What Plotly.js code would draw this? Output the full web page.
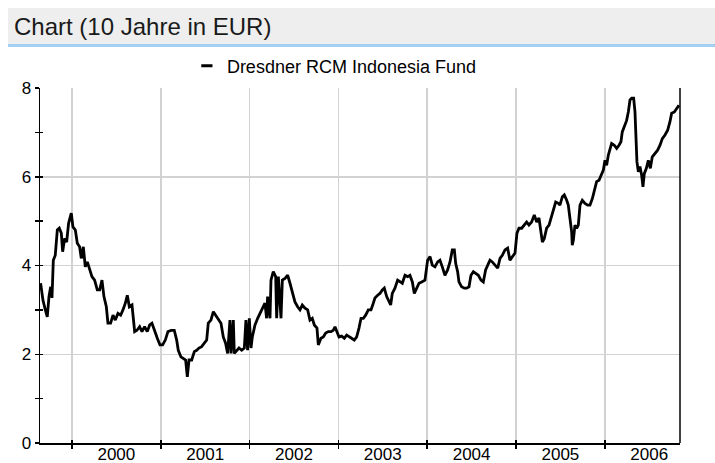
<!DOCTYPE html>
<html>
<head>
<meta charset="utf-8">
<script src="https://cdn.plot.ly/plotly-3.0.1.min.js"></script>
<style>
html,body{margin:0;padding:0;background:#fff;}
#chart{width:715px;height:463px;}
</style>
</head>
<body>
<div id="chart"></div>
<script>
// ---- data (decimal years / fund price in EUR) ----
const seriesName = 'Dresdner RCM Indonesia Fund';
const headerTitle = 'Chart (10 Jahre in EUR)';

const dates = [
1999.647,1999.673,1999.700,1999.722,1999.741,1999.760,1999.775,1999.790,1999.812,1999.835,1999.857,1999.880,1999.895,1999.917,1999.940,1999.962,1999.992,
2000.011,2000.038,2000.060,2000.086,2000.105,2000.128,2000.150,2000.173,2000.199,2000.225,2000.255,2000.285,2000.312,2000.338,2000.360,2000.387,2000.405,2000.435,2000.462,2000.488,2000.518,2000.548,2000.574,2000.601,2000.623,2000.646,2000.676,2000.706,2000.732,2000.762,2000.788,2000.818,2000.848,2000.875,2000.901,2000.931,2000.961,2000.991,
2001.021,2001.051,2001.081,2001.119,
2001.152,2001.179,2001.197,2001.227,2001.254,2001.280,2001.299,2001.318,2001.348,2001.378,2001.404,2001.430,2001.460,2001.490,2001.517,2001.535,2001.565,2001.592,2001.618,2001.648,2001.678,2001.704,2001.730,2001.753,2001.779,2001.791,2001.817,2001.828,2001.854,2001.881,2001.911,2001.941,2001.959,2001.978,2001.997,
2002.016,2002.031,2002.061,2002.091,2002.117,2002.143,2002.173,2002.192,2002.203,2002.230,2002.241,2002.267,2002.294,2002.305,2002.324,2002.354,2002.369,2002.399,2002.429,2002.455,2002.481,2002.511,
2002.541,2002.568,2002.594,2002.624,2002.654,2002.680,2002.706,2002.729,2002.759,2002.774,2002.804,2002.830,2002.857,2002.887,2002.917,2002.943,2002.962,2002.984,
2003.007,2003.037,2003.067,2003.093,2003.119,2003.149,2003.179,2003.206,2003.232,2003.255,2003.281,2003.307,2003.337,2003.367,2003.393,2003.412,2003.442,2003.468,2003.495,2003.517,2003.544,2003.562,2003.589,2003.607,2003.637,2003.667,2003.694,2003.720,2003.750,2003.780,2003.806,2003.833,2003.855,2003.881,2003.908,2003.938,2003.975,
2004.005,
2004.032,2004.058,2004.088,2004.118,2004.144,2004.170,2004.200,2004.230,2004.257,2004.283,2004.306,2004.321,2004.343,2004.358,2004.388,2004.418,2004.444,2004.471,2004.493,2004.520,2004.546,2004.576,2004.606,2004.632,2004.658,2004.681,2004.707,2004.733,2004.764,2004.794,2004.820,2004.846,2004.876,2004.906,2004.932,2004.959,2004.989,
2005.011,2005.034,2005.064,2005.094,2005.120,2005.146,2005.176,2005.206,2005.233,2005.259,2005.282,2005.297,2005.319,2005.345,2005.372,2005.394,2005.421,2005.447,2005.477,
2005.495,2005.522,2005.544,2005.571,2005.589,2005.608,2005.627,2005.634,2005.646,2005.664,2005.683,2005.702,2005.721,2005.747,2005.777,2005.807,2005.833,2005.860,2005.882,2005.908,2005.935,2005.957,2005.984,
2006.002,2006.021,2006.040,2006.059,2006.077,2006.107,2006.134,2006.160,2006.182,2006.197,2006.220,2006.246,2006.265,2006.284,2006.303,2006.325,2006.340,2006.351,2006.362,2006.378,2006.396,2006.415,2006.430,2006.445,2006.468,2006.490,2006.513,2006.535,2006.565,2006.595,2006.622,2006.648,2006.678,2006.708,2006.734,2006.753,2006.783,2006.809,2006.835
];

const prices = [
3.60,3.22,3.00,2.84,3.30,3.52,3.27,4.12,4.23,4.80,4.84,4.73,4.31,4.61,4.53,4.95,5.18,
4.87,4.80,4.50,4.42,4.16,4.42,3.97,4.08,3.90,3.75,3.67,3.45,3.45,3.67,3.30,3.07,2.70,2.70,2.88,2.77,2.92,2.88,3.00,3.15,3.33,3.07,3.11,2.51,2.54,2.62,2.51,2.62,2.51,2.66,2.70,2.51,2.36,2.21,
2.21,2.32,2.51,2.54,
2.54,2.32,2.09,1.94,1.91,1.87,1.49,1.87,1.87,2.06,2.09,2.14,2.17,2.25,2.32,2.70,2.77,2.96,2.88,2.77,2.70,2.39,2.25,2.02,2.77,2.02,2.77,2.02,2.09,2.14,2.09,2.14,2.77,2.09,2.81,
2.14,2.39,2.66,2.81,2.92,3.04,3.15,2.81,3.30,2.81,3.67,3.86,3.75,2.81,3.75,2.81,3.67,3.71,3.78,3.60,3.37,3.18,
3.07,3.00,3.11,3.04,3.00,2.77,2.81,2.66,2.59,2.21,2.36,2.39,2.48,2.51,2.51,2.54,2.62,2.48,
2.39,2.41,2.36,2.43,2.39,2.36,2.32,2.39,2.59,2.81,2.81,2.88,3.00,3.00,3.15,3.27,3.33,3.37,3.45,3.49,3.30,3.22,3.11,3.37,3.49,3.67,3.63,3.60,3.78,3.75,3.78,3.63,3.37,3.49,3.60,3.63,3.67,
4.12,
4.20,4.01,3.97,4.08,4.12,3.97,3.78,3.90,4.08,4.35,4.35,4.05,3.86,3.63,3.52,3.49,3.49,3.52,3.78,3.86,3.83,3.78,3.67,3.63,3.90,4.01,4.12,4.08,4.01,3.94,4.16,4.23,4.35,4.39,4.12,4.20,4.28,
4.73,4.84,4.84,4.91,4.98,4.91,4.98,5.14,4.98,5.07,4.80,4.53,4.61,4.84,4.91,5.07,5.25,5.43,5.40,
5.36,5.55,5.59,5.47,5.36,5.06,4.76,4.46,4.57,4.91,4.84,4.91,5.36,5.47,5.40,5.36,5.36,5.51,5.66,5.89,5.92,6.04,6.15,
6.37,6.26,6.49,6.60,6.75,6.71,6.64,6.71,6.79,7.01,7.12,7.27,7.46,7.73,7.77,7.77,7.46,6.94,6.34,6.11,6.23,6.04,5.77,6.07,6.19,6.37,6.19,6.45,6.53,6.60,6.71,6.86,6.94,7.05,7.24,7.43,7.46,7.54,7.61
];

const yearStarts = [2000, 2001, 2002, 2003, 2004, 2005, 2006];
const yearLabels = ['2000', '2001', '2002', '2003', '2004', '2005', '2006'];
const yTickVals = [0, 2, 4, 6, 8];

// ---- chart ----
const FONT = 'Liberation Sans, Arial, sans-serif';
const xRange = [1999.64, 2006.847];
const yRange = [0, 8];
const gridCol = '#d2d2d2';

const traces = [
  {
    x: dates, y: prices, type: 'scatter', mode: 'lines',
    line: {color: '#000000', width: 2.8},
    name: seriesName, showlegend: false, hoverinfo: 'x+y'
  },
  {
    x: [null], y: [null], type: 'scatter', mode: 'markers',
    xaxis: 'x2', yaxis: 'y2',
    marker: {symbol: 'line-ew', size: 8, color: '#000', line: {width: 3, color: '#000'}},
    name: seriesName, showlegend: true
  }
];

const layout = {
  width: 715, height: 463,
  margin: {l: 40, r: 35, t: 88, b: 20, pad: 0},
  paper_bgcolor: '#ffffff', plot_bgcolor: '#ffffff',
  font: {family: FONT, color: '#000'},
  xaxis: {
    range: xRange, fixedrange: true,
    tickmode: 'array',
    tickvals: yearStarts.map(v => v + 0.5),
    ticktext: yearLabels,
    ticks: '', showgrid: false, zeroline: false,
    showline: true, linecolor: '#000', linewidth: 1.5,
    ticklabelstandoff: -5,
    tickfont: {family: FONT, size: 17, color: '#000'},
    minor: {
      tickmode: 'array', tickvals: yearStarts,
      ticks: 'outside', ticklen: 4, tickwidth: 1.5, tickcolor: '#000',
      showgrid: true, gridcolor: gridCol, gridwidth: 1.5
    }
  },
  yaxis: {
    range: yRange, fixedrange: true,
    tickmode: 'array', tickvals: yTickVals,
    ticks: 'outside', ticklen: 4, tickwidth: 1.5, tickcolor: '#000',
    showgrid: true, gridcolor: gridCol, gridwidth: 1.5, zeroline: false,
    showline: true, linecolor: '#000', linewidth: 1.5,
    tickfont: {family: FONT, size: 17, color: '#000'},
    minor: {dtick: 1, ticks: 'outside', ticklen: 4, tickwidth: 1.5, tickcolor: '#000', showgrid: false}
  },
  xaxis2: {
    overlaying: 'x', anchor: 'y', range: xRange, fixedrange: true,
    tickmode: 'array', tickvals: yearStarts,
    ticks: 'inside', ticklen: 3, tickwidth: 1.5, tickcolor: '#000',
    showticklabels: false, showgrid: false, zeroline: false, showline: false
  },
  yaxis2: {
    overlaying: 'y', anchor: 'x', side: 'left', range: yRange, fixedrange: true,
    tickmode: 'linear', tick0: 0, dtick: 1,
    ticks: 'inside', ticklen: 3, tickwidth: 1.5, tickcolor: '#000',
    showticklabels: false, showgrid: false, zeroline: false, showline: false
  },
  showlegend: true,
  legend: {
    orientation: 'h', x: 0.2295, xanchor: 'left', y: 1.062, yanchor: 'middle',
    font: {family: FONT, size: 18, color: '#000'},
    bgcolor: 'rgba(0,0,0,0)', itemclick: false, itemdoubleclick: false
  },
  shapes: [
    {type: 'rect', xref: 'paper', yref: 'paper', x0: -0.05, x1: 1.06, y0: 1.1239, y1: 1.2254,
     fillcolor: '#eeeeee', line: {width: 0}, layer: 'below'},
    {type: 'rect', xref: 'paper', yref: 'paper', x0: -0.05, x1: 1.06, y0: 1.1155, y1: 1.1239,
     fillcolor: '#a3cff2', line: {width: 0}, layer: 'below'},
    {type: 'line', xref: 'paper', yref: 'paper', x0: 1, x1: 1, y0: 0, y1: 1,
     line: {color: '#000', width: 1.5}}
  ],
  annotations: [
    {text: headerTitle, xref: 'paper', yref: 'paper', x: -0.044, y: 1.172,
     xanchor: 'left', yanchor: 'middle', showarrow: false,
     font: {family: FONT, size: 24, color: '#1a1a1a'}}
  ]
};

Plotly.newPlot('chart', traces, layout, {displayModeBar: false, staticPlot: true});
</script>
</body>
</html>
